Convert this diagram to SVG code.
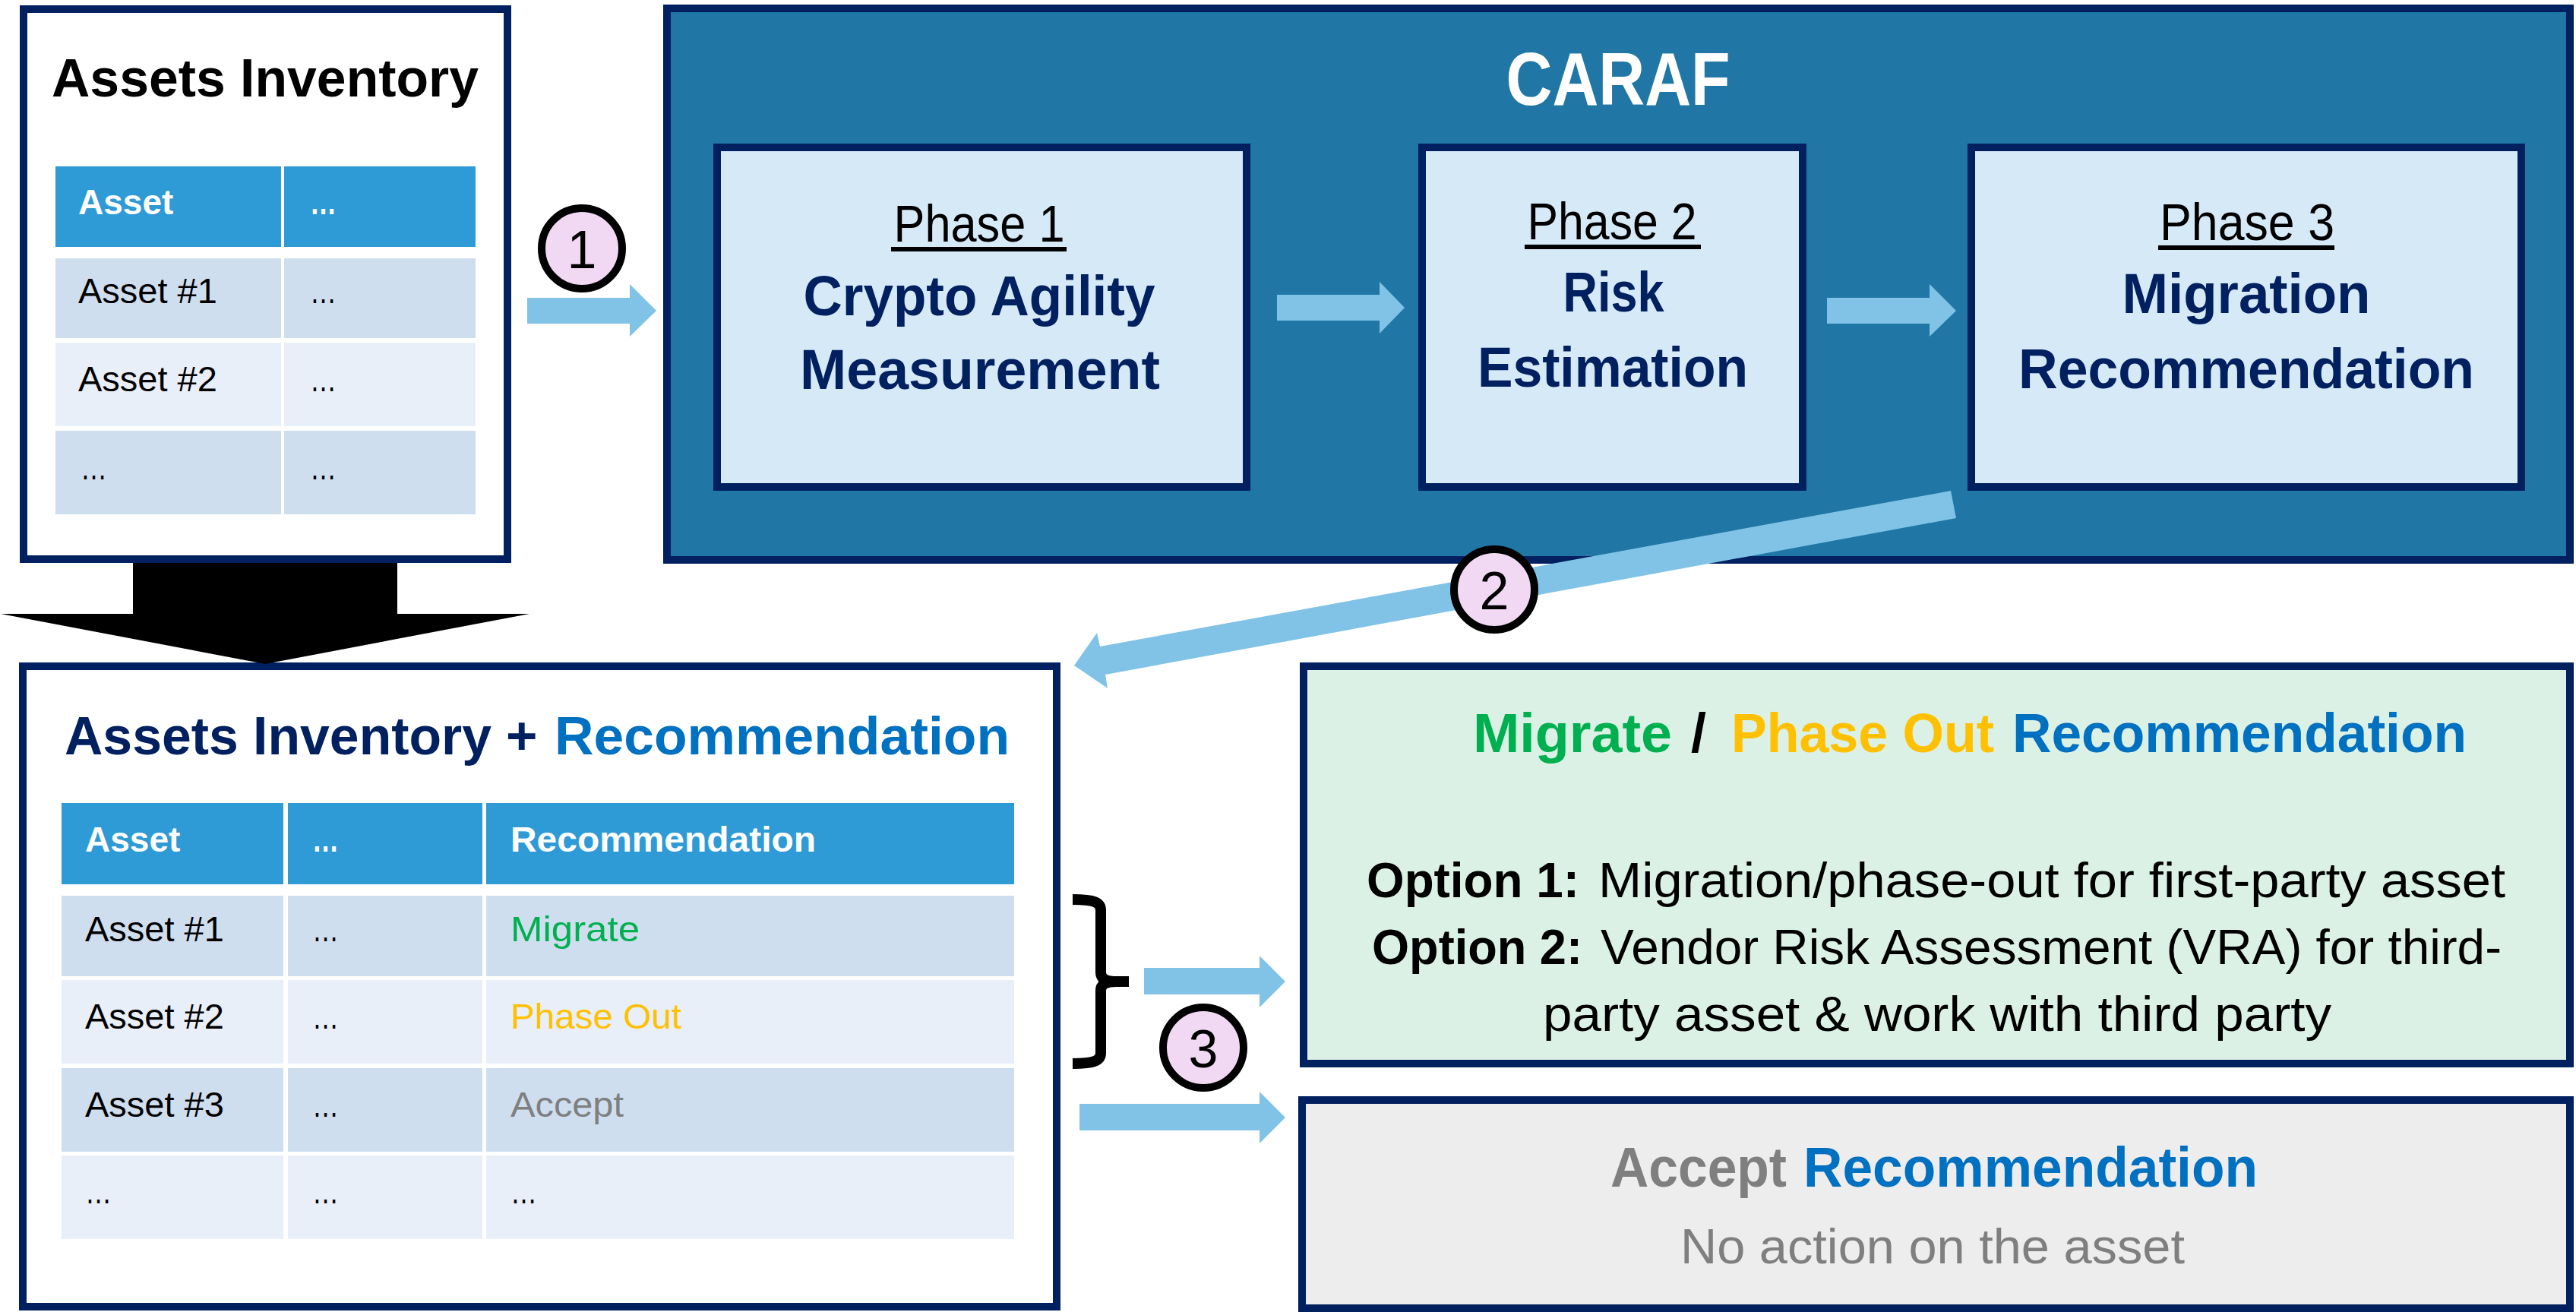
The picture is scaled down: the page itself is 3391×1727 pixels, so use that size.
<svg xmlns="http://www.w3.org/2000/svg" width="3391" height="1727" viewBox="0 0 3391 1727">
<defs>
<style>
text{font-family:"Liberation Sans",Arial,sans-serif;fill:#000}
.box{stroke:#002060;stroke-width:10}
.b{font-weight:bold}
.arrow{fill:#80C3E6}
.badge circle{fill:#F1D9F4;stroke:#000;stroke-width:10}
.badge text{font-size:70px;text-anchor:middle}
.hdr{fill:#2E9BD7}
.r1{fill:#CFDEEF}
.r2{fill:#E9EFF8}
.th{font-size:46px;font-weight:bold;fill:#fff}
.td{font-size:47px}
.navy{fill:#002060}
.blue{fill:#0070C0}
.green{fill:#00B050}
.gold{fill:#FFC000}
.grey{fill:#7F7F7F}
.ph{font-size:68px;text-anchor:middle}
.pt{font-size:74px;font-weight:bold;fill:#002060;text-anchor:middle}
.phbox{fill:#D5E9F7;stroke:#002060;stroke-width:10}
</style>
</defs>
<rect width="3391" height="1727" fill="#fff"/>

<g id="assets-inventory">
<rect class="box" x="31" y="12" width="637" height="724" fill="#fff"/>
<text x="68" y="127" font-size="70" class="b" textLength="562" lengthAdjust="spacingAndGlyphs">Assets Inventory</text>
<rect class="hdr" x="73" y="219" width="297" height="106"/>
<rect class="hdr" x="374" y="219" width="252" height="106"/>
<rect class="r1" x="73" y="340" width="297" height="105"/>
<rect class="r1" x="374" y="340" width="252" height="105"/>
<rect class="r2" x="73" y="451" width="297" height="110"/>
<rect class="r2" x="374" y="451" width="252" height="110"/>
<rect class="r1" x="73" y="567" width="297" height="110"/>
<rect class="r1" x="374" y="567" width="252" height="110"/>
<text class="th" x="103" y="282">Asset</text>
<text class="th" x="408" y="282" textLength="35" lengthAdjust="spacingAndGlyphs">…</text>
<text class="td" x="103" y="399">Asset #1</text>
<text class="td" x="408" y="399" textLength="35" lengthAdjust="spacingAndGlyphs">…</text>
<text class="td" x="103" y="515">Asset #2</text>
<text class="td" x="408" y="515" textLength="35" lengthAdjust="spacingAndGlyphs">…</text>
<text class="td" x="106" y="631" textLength="35" lengthAdjust="spacingAndGlyphs">…</text>
<text class="td" x="408" y="631" textLength="35" lengthAdjust="spacingAndGlyphs">…</text>
</g>

<g id="caraf">
<rect class="box" x="878" y="11" width="2505" height="726" fill="#2077A5"/>
<text x="2130" y="138" font-size="98" class="b" fill="#fff" style="fill:#fff" text-anchor="middle" textLength="295" lengthAdjust="spacingAndGlyphs">CARAF</text>
</g>

<g id="phase1">
<rect class="phbox" x="944" y="194" width="697" height="447"/>
<text class="ph" x="1289" y="318" textLength="225" lengthAdjust="spacingAndGlyphs">Phase 1</text>
<rect x="1173" y="325" width="231" height="6" fill="#000"/>
<text class="pt" x="1289" y="415" textLength="463" lengthAdjust="spacingAndGlyphs">Crypto Agility</text>
<text class="pt" x="1290" y="512" textLength="474" lengthAdjust="spacingAndGlyphs">Measurement</text>
</g>

<g id="phase2">
<rect class="phbox" x="1872" y="194" width="501" height="447"/>
<text class="ph" x="2122" y="315" textLength="223" lengthAdjust="spacingAndGlyphs">Phase 2</text>
<rect x="2007" y="322" width="232" height="6" fill="#000"/>
<text class="pt" x="2124" y="410" textLength="133" lengthAdjust="spacingAndGlyphs">Risk</text>
<text class="pt" x="2123" y="509" textLength="356" lengthAdjust="spacingAndGlyphs">Estimation</text>
</g>

<g id="phase3">
<rect class="phbox" x="2595" y="194" width="724" height="447"/>
<text class="ph" x="2958" y="316" textLength="230" lengthAdjust="spacingAndGlyphs">Phase 3</text>
<rect x="2841" y="323" width="232" height="6" fill="#000"/>
<text class="pt" x="2957" y="412" textLength="327" lengthAdjust="spacingAndGlyphs">Migration</text>
<text class="pt" x="2957" y="511" textLength="600" lengthAdjust="spacingAndGlyphs">Recommendation</text>
</g>

<g id="assets-recommendation">
<rect class="box" x="30" y="877" width="1361" height="843" fill="#fff"/>
<text x="85" y="993" font-size="71" class="b navy" textLength="562" lengthAdjust="spacingAndGlyphs">Assets Inventory</text>
<text x="666" y="993" font-size="71" class="b navy">+</text>
<text x="730" y="993" font-size="71" class="b blue" textLength="599" lengthAdjust="spacingAndGlyphs">Recommendation</text>
<rect class="hdr" x="81" y="1057" width="292" height="107"/>
<rect class="hdr" x="379" y="1057" width="256" height="107"/>
<rect class="hdr" x="640" y="1057" width="695" height="107"/>
<rect class="r1" x="81" y="1179" width="292" height="106"/>
<rect class="r1" x="379" y="1179" width="256" height="106"/>
<rect class="r1" x="640" y="1179" width="695" height="106"/>
<rect class="r2" x="81" y="1290" width="292" height="110"/>
<rect class="r2" x="379" y="1290" width="256" height="110"/>
<rect class="r2" x="640" y="1290" width="695" height="110"/>
<rect class="r1" x="81" y="1406" width="292" height="110"/>
<rect class="r1" x="379" y="1406" width="256" height="110"/>
<rect class="r1" x="640" y="1406" width="695" height="110"/>
<rect class="r2" x="81" y="1521" width="292" height="110"/>
<rect class="r2" x="379" y="1521" width="256" height="110"/>
<rect class="r2" x="640" y="1521" width="695" height="110"/>
<text class="th" x="112" y="1121">Asset</text>
<text class="th" x="411" y="1121" textLength="35" lengthAdjust="spacingAndGlyphs">…</text>
<text class="th" x="672" y="1121" textLength="402" lengthAdjust="spacingAndGlyphs">Recommendation</text>
<text class="td" x="112" y="1239">Asset #1</text>
<text class="td" x="411" y="1239" textLength="35" lengthAdjust="spacingAndGlyphs">…</text>
<text class="td green" x="672" y="1239" textLength="170" lengthAdjust="spacingAndGlyphs">Migrate</text>
<text class="td" x="112" y="1354">Asset #2</text>
<text class="td" x="411" y="1354" textLength="35" lengthAdjust="spacingAndGlyphs">…</text>
<text class="td gold" x="672" y="1354" textLength="225" lengthAdjust="spacingAndGlyphs">Phase Out</text>
<text class="td" x="112" y="1470">Asset #3</text>
<text class="td" x="411" y="1470" textLength="35" lengthAdjust="spacingAndGlyphs">…</text>
<text class="td grey" x="672" y="1470" textLength="149" lengthAdjust="spacingAndGlyphs">Accept</text>
<text class="td" x="112" y="1584" textLength="35" lengthAdjust="spacingAndGlyphs">…</text>
<text class="td" x="411" y="1584" textLength="35" lengthAdjust="spacingAndGlyphs">…</text>
<text class="td" x="672" y="1584" textLength="35" lengthAdjust="spacingAndGlyphs">…</text>
</g>

<g id="migrate-phaseout">
<rect class="box" x="1716" y="877" width="1667" height="523" fill="#DBF1E5"/>
<text x="1939" y="990" font-size="72" class="b green" textLength="262" lengthAdjust="spacingAndGlyphs">Migrate</text>
<text x="2226" y="990" font-size="72" class="b">/</text>
<text x="2279" y="990" font-size="72" class="b gold" textLength="346" lengthAdjust="spacingAndGlyphs">Phase Out</text>
<text x="2649" y="990" font-size="72" class="b blue" textLength="598" lengthAdjust="spacingAndGlyphs">Recommendation</text>
<text x="1799" y="1181" font-size="64" class="b" textLength="280" lengthAdjust="spacingAndGlyphs">Option 1:</text>
<text x="2104" y="1181" font-size="64" textLength="1194" lengthAdjust="spacingAndGlyphs">Migration/phase-out for first-party asset</text>
<text x="1806" y="1269" font-size="64" class="b" textLength="277" lengthAdjust="spacingAndGlyphs">Option 2:</text>
<text x="2107" y="1269" font-size="64" textLength="1186" lengthAdjust="spacingAndGlyphs">Vendor Risk Assessment (VRA) for third-</text>
<text x="2031" y="1357" font-size="64" textLength="1038" lengthAdjust="spacingAndGlyphs">party asset &amp; work with third party</text>
</g>

<g id="accept">
<rect class="box" x="1714" y="1448" width="1669" height="274" fill="#EDEDED"/>
<text x="2120" y="1562" font-size="74" class="b grey" textLength="232" lengthAdjust="spacingAndGlyphs">Accept</text>
<text x="2374" y="1562" font-size="74" class="b blue" textLength="598" lengthAdjust="spacingAndGlyphs">Recommendation</text>
<text x="2212" y="1663" font-size="64" class="grey" textLength="664" lengthAdjust="spacingAndGlyphs">No action on the asset</text>
</g>

<g id="connectors">
<polygon class="arrow" points="694,392 829,392 829,374 864,409 829,443 829,426 694,426"/>
<polygon class="arrow" points="1681,388 1816,388 1816,371 1849,405 1816,439 1816,422 1681,422"/>
<polygon class="arrow" points="2405,392 2540,392 2540,374 2575,409 2540,443 2540,426 2405,426"/>
<polygon fill="#000" points="175,741 523,741 523,808 697,808 349,874 1,808 175,808"/>
<polygon class="arrow" points="2568,646 1448,851 1444,833 1414,876 1458,906 1455,888 2575,682"/>
<path d="M1412,1184 C1441,1184 1449,1188 1449,1198 L1449,1280 C1449,1288 1455,1292 1470,1292 L1486,1292 M1470,1292 C1455,1292 1449,1296 1449,1304 L1449,1386 C1449,1396 1441,1400 1412,1400" fill="none" stroke="#000" stroke-width="14"/>
<polygon class="arrow" points="1506,1274 1658,1274 1658,1258 1692,1292 1658,1326 1658,1309 1506,1309"/>
<polygon class="arrow" points="1421,1453 1658,1453 1658,1437 1692,1471 1658,1505 1658,1488 1421,1488"/>
</g>

<g id="badge1" class="badge"><circle cx="766" cy="327" r="53"/><text x="766" y="353">1</text></g>
<g id="badge2" class="badge"><circle cx="1967" cy="776" r="53"/><text x="1967" y="802">2</text></g>
<g id="badge3" class="badge"><circle cx="1584" cy="1379" r="53"/><text x="1584" y="1405">3</text></g>
</svg>
